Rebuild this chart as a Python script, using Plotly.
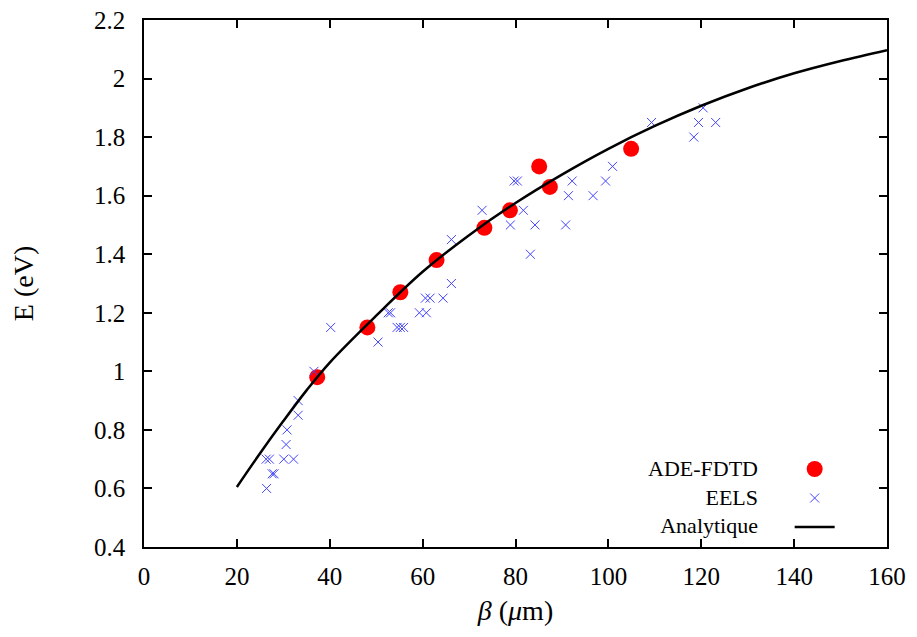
import plotly.graph_objects as go

# ADE-FDTD simulations
fdtd_beta = [37.3, 48.1, 55.2, 63.0, 73.3, 78.8, 85.1, 87.4, 104.9]
fdtd_E = [0.98, 1.15, 1.27, 1.38, 1.49, 1.55, 1.70, 1.63, 1.76]

# EELS measurements
eels_beta = [26.4, 27.6, 28.0, 26.3, 27.0, 30.1, 32.2, 30.6, 30.8, 33.2, 33.2, 36.6,
             40.2, 50.4, 52.6, 53.1, 54.5, 55.2, 55.9, 59.3, 60.8, 60.6, 61.6, 64.4,
             66.2, 66.2, 72.8, 78.9, 81.7, 84.2, 83.2, 79.7, 80.4, 90.8, 91.4, 92.2,
             96.7, 99.4, 100.9, 109.3, 118.4, 119.4, 120.4, 123.1]
eels_E = [0.60, 0.65, 0.65, 0.70, 0.70, 0.70, 0.70, 0.75, 0.80, 0.85, 0.90, 1.00,
          1.15, 1.10, 1.20, 1.20, 1.15, 1.15, 1.15, 1.20, 1.20, 1.25, 1.25, 1.25,
          1.30, 1.45, 1.55, 1.50, 1.55, 1.50, 1.40, 1.65, 1.65, 1.50, 1.60, 1.65,
          1.60, 1.65, 1.70, 1.85, 1.80, 1.85, 1.90, 1.85]

# Analytical curve
ana_beta = [20, 25, 30, 35, 40, 50, 60, 70, 80, 90, 100, 110, 120, 130, 140, 150, 160]
ana_E = [0.605, 0.72, 0.83, 0.935, 1.03, 1.19, 1.34, 1.465, 1.575, 1.672, 1.76,
         1.838, 1.907, 1.967, 2.018, 2.06, 2.097]

x_ticks = [0, 20, 40, 60, 80, 100, 120, 140, 160]
y_ticks = [0.4, 0.6, 0.8, 1.0, 1.2, 1.4, 1.6, 1.8, 2.0, 2.2]
y_tick_text = ["0.4", "0.6", "0.8", "1", "1.2", "1.4", "1.6", "1.8", "2", "2.2"]
legend_labels = ["ADE-FDTD", "EELS", "Analytique"]

FONT = "Liberation Serif"

fig = go.Figure()
fig.add_trace(go.Scatter(
    x=fdtd_beta, y=fdtd_E, mode="markers", name=" ",
    marker=dict(symbol="circle", size=16, color="#ff0000", line=dict(width=0)),
))
fig.add_trace(go.Scatter(
    x=eels_beta, y=eels_E, mode="markers", name=" ",
    marker=dict(symbol="x-thin-open", size=9, color="#4444ff",
                line=dict(width=1, color="#4444ff")),
))
fig.add_trace(go.Scatter(
    x=ana_beta, y=ana_E, mode="lines", name=" ", line_shape="spline",
    line=dict(color="black", width=2.5),
))

axis_common = dict(
    showline=True, linecolor="black", linewidth=1.5, mirror="allticks",
    ticks="inside", ticklen=8, tickwidth=1.5, tickcolor="black",
    showgrid=False, zeroline=False, automargin=False,
    ticklabeloverflow="allow",
    tickfont=dict(family=FONT, size=25, color="black"),
)

fig.update_xaxes(range=[0, 160], tickvals=x_ticks, ticklabelstandoff=6,
                 title=dict(text="<i>β</i> (<i>μ</i>m)",
                            font=dict(family=FONT, size=28, color="black"),
                            standoff=12),
                 **axis_common)
fig.update_yaxes(range=[0.4, 2.2], tickvals=y_ticks, ticktext=y_tick_text,
                 ticklabelstandoff=12,
                 title=dict(text="E (eV)",
                            font=dict(family=FONT, size=28, color="black"),
                            standoff=52),
                 **axis_common)

fig.add_annotation(x=0.829, y=0.1494 + 0.027, xref="paper", yref="paper",
                   text="<br>".join(legend_labels), align="right",
                   showarrow=False, xanchor="right", yanchor="top",
                   font=dict(family=FONT, size=22, color="black"))

fig.update_layout(
    width=917, height=637,
    margin=dict(l=136, r=38, t=12, b=98),
    plot_bgcolor="white", paper_bgcolor="white",
    showlegend=True,
    legend=dict(x=0.869, y=0.185, xanchor="left", yanchor="top",
                bgcolor="rgba(0,0,0,0)", font=dict(family=FONT, size=20),
                itemwidth=40, tracegroupgap=0),
)

fig.write_html("out.html")
